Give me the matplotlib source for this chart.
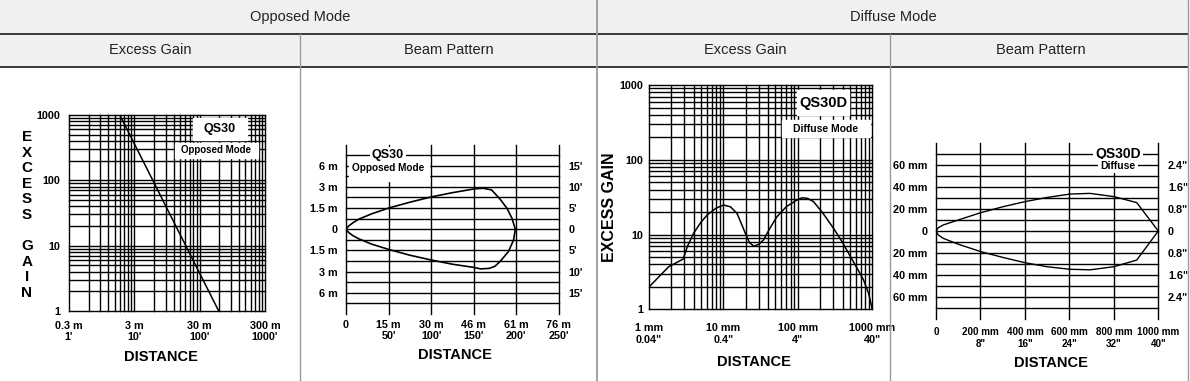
import numpy as np
import matplotlib.pyplot as plt
from matplotlib.patches import Rectangle
from matplotlib.lines import Line2D
from matplotlib.ticker import NullLocator

plt.rcParams['font.family'] = ['Liberation Sans Narrow', 'Liberation Sans', 'DejaVu Sans']
plt.rcParams['font.weight'] = 'bold'
plt.rcParams['font.size'] = 7.8

# ---- data ----
# opposed mode excess gain (m, gain)
op_dist = [1.8, 58.7]
op_gain = [1000, 1]

# opposed beam pattern (x in ft, y in grid units)
op_up_x = [0, 3, 8, 15, 30, 50, 75, 100, 125, 150, 161, 171, 181, 189, 195, 199]
op_up_y = [0, 0.3, 0.6, 0.95, 1.45, 2.0, 2.55, 3.05, 3.45, 3.8, 3.87, 3.72, 2.85, 2.0, 1.05, 0]
op_lo_x = [0, 3, 8, 15, 30, 50, 75, 100, 125, 150, 158, 168, 175, 181, 191, 197, 199]
op_lo_y = [0, -0.3, -0.6, -0.9, -1.4, -1.9, -2.45, -2.9, -3.3, -3.6, -3.74, -3.7, -3.5, -3.05, -2.1, -1.0, 0]

# diffuse excess gain (mm, gain)
df_dist = [1.0, 1.85, 2.9, 3.3, 4.0, 5.0, 6.1, 8.0, 10.1, 12.5, 15.3, 17.5, 19.8, 22.5, 25.7,
           30, 34.8, 42, 52.5, 70, 97.5, 114, 135, 163, 220, 302, 400, 507, 640, 763, 890, 1000]
df_gain = [1.97, 3.7, 4.7, 6.9, 10.4, 14.5, 18.3, 22.5, 24.8, 23.5, 19.2, 14.0, 10.4, 7.8, 7.0,
           7.4, 8.5, 12.0, 17.3, 23.5, 29.0, 31.0, 30.5, 27.5, 19.0, 12.1, 7.8, 5.1, 3.4, 2.47, 1.65, 1.0]

# diffuse beam pattern (mm)
db_x = [0, 10, 33, 100, 202, 300, 400, 500, 603, 693, 802, 903, 1000]
db_up = [0, 3, 5.5, 10, 16.7, 22, 26.7, 30.5, 33.6, 34.2, 31.2, 25.8, 0]
db_lo = [0, -3.5, -6.7, -12, -18.8, -24, -28.8, -32.5, -34.8, -35.3, -32.4, -26.4, 0]

W, H = 1190, 381
fig = plt.figure(figsize=(W / 100, H / 100), dpi=100)


def px_axes(l, t, r, b):
    return fig.add_axes([l / W, 1 - b / H, (r - l) / W, (b - t) / H])


def fx(x):
    return x / W


def fy(y):
    return 1 - y / H


HEAD = ['Liberation Sans', 'DejaVu Sans']

# ---- header ----
fig.patches.append(Rectangle((0, fy(67)), fx(1188), 67 / H, transform=fig.transFigure,
                             color='#f0f0f0', zorder=0))
for yy in (34, 67):
    fig.add_artist(Line2D([0, fx(1188)], [fy(yy)] * 2, color='#1a1a1a', lw=1.2))
fig.add_artist(Line2D([fx(597)] * 2, [0, 1], color='#9a9a9a', lw=1.3))
for xx in (300, 890):
    fig.add_artist(Line2D([fx(xx)] * 2, [0, fy(34)], color='#9a9a9a', lw=1.0))
fig.add_artist(Line2D([fx(1188)] * 2, [0, 1], color='#9a9a9a', lw=1.0))

heads = [(300, 17, 'Opposed Mode'), (893, 17, 'Diffuse Mode'),
         (150, 50, 'Excess Gain'), (449, 50, 'Beam Pattern'),
         (745, 50, 'Excess Gain'), (1041, 50, 'Beam Pattern')]
for x, y, s in heads:
    fig.text(fx(x), fy(y), s, ha='center', va='center', fontsize=10.5,
             family=HEAD, weight='normal', color='#222222')


def clean(ax):
    for sp in ax.spines.values():
        sp.set_visible(False)
    ax.tick_params(length=0)


GRID = dict(color='black', lw=1.0, zorder=1, clip_on=False)

# ---- panel 1: opposed excess gain ----
ax1 = px_axes(69, 115, 265, 311)
ax1.set_xscale('log')
ax1.set_yscale('log')
ax1.set_xlim(0.3, 300)
ax1.set_ylim(1, 1000)
for n in range(3):
    for k in range(1, 10):
        ax1.axvline(0.3 * k * 10 ** n, **GRID)
        ax1.axhline(k * 10 ** n, **GRID)
ax1.axvline(300, **GRID)
ax1.axhline(1000, **GRID)
ax1.plot(op_dist, op_gain, color='black', lw=1.1, zorder=3)
ax1.set_xticks([0.3, 3, 30, 300], ["0.3 m\n1'", "3 m\n10'", "30 m\n100'", "300 m\n1000'"])
ax1.set_yticks([1, 10, 100, 1000], ['1', '10', '100', '1000'])
ax1.xaxis.set_minor_locator(NullLocator())
ax1.yaxis.set_minor_locator(NullLocator())
clean(ax1)
ax1.tick_params(axis='x', pad=7)
ax1.tick_params(axis='y', pad=6)
ax1.add_patch(Rectangle((0.633, 0.872), 0.275, 0.113, transform=ax1.transAxes,
                        color='white', zorder=2))
ax1.add_patch(Rectangle((0.541, 0.781), 0.423, 0.076, transform=ax1.transAxes,
                        color='white', zorder=2))
ax1.text(0.77, 0.928, 'QS30', transform=ax1.transAxes, ha='center', va='center',
         fontsize=9, zorder=4)
ax1.text(0.752, 0.819, 'Opposed Mode', transform=ax1.transAxes, ha='center', va='center',
         fontsize=7, zorder=4)
for i, ch in enumerate('EXCESS GAIN'):
    fig.text(fx(27), fy(137 + i * 15.6), ch, ha='center', va='center', fontsize=11)
fig.text(fx(161), fy(357), 'DISTANCE', ha='center', va='center', fontsize=10.5)

# ---- panel 2: opposed beam pattern ----
ax2 = px_axes(346, 144.5, 558.7, 314)
ax2.set_xlim(0, 250)
ax2.set_ylim(-8, 8)
for v in range(0, 251, 50):
    if v == 50:
        ax2.axvline(v, ymin=0, ymax=(4.6 + 8) / 16, **GRID)
        ax2.axvline(v, ymin=(7.6 + 8) / 16, ymax=1, **GRID)
    else:
        ax2.axvline(v, **GRID)
for h in range(-7, 8):
    ax2.axhline(h, **GRID)
ax2.add_patch(Rectangle((3, 4.55), 95, 2.3, color='white', zorder=2))
ax2.plot(op_up_x, op_up_y, color='black', lw=1.2, zorder=3)
ax2.plot(op_lo_x, op_lo_y, color='black', lw=1.2, zorder=3)
ax2.text(49, 7.0, 'QS30', ha='center', va='center', fontsize=9, zorder=4,
         bbox=dict(facecolor='white', edgecolor='none', pad=1.5))
ax2.text(50, 5.75, 'Opposed Mode', ha='center', va='center', fontsize=7.2, zorder=4)
ax2.set_xticks(range(0, 251, 50), ['0', "15 m\n50'", "30 m\n100'", "46 m\n150'",
                                   "61 m\n200'", "76 m\n250'"])
ax2.set_yticks([6, 4, 2, 0, -2, -4, -6], ['6 m', '3 m', '1.5 m', '0', '1.5 m', '3 m', '6 m'])
clean(ax2)
ax2.tick_params(axis='x', pad=4)
ax2.tick_params(axis='y', pad=6)
ax2r = ax2.twinx()
ax2r.set_ylim(-8, 8)
ax2r.set_yticks([6, 4, 2, 0, -2, -4, -6], ["15'", "10'", "5'", '0', "5'", "10'", "15'"])
clean(ax2r)
ax2r.tick_params(axis='y', pad=7)
fig.text(fx(455), fy(355), 'DISTANCE', ha='center', va='center', fontsize=10.5)

# ---- panel 3: diffuse excess gain ----
ax3 = px_axes(648.7, 85, 872.3, 309.3)
ax3.set_xscale('log')
ax3.set_yscale('log')
ax3.set_xlim(1, 1000)
ax3.set_ylim(1, 1000)
for n in range(3):
    for k in range(1, 10):
        ax3.axvline(k * 10 ** n, **GRID)
        ax3.axhline(k * 10 ** n, **GRID)
ax3.axvline(1000, **GRID)
ax3.axhline(1000, **GRID)
ax3.plot(df_dist, df_gain, color='black', lw=1.1, zorder=3)
ax3.set_xticks([1, 10, 100, 1000], ['1 mm\n0.04"', '10 mm\n0.4"', '100 mm\n4"', '1000 mm\n40"'])
ax3.set_yticks([1, 10, 100, 1000], ['1', '10', '100', '1000'])
ax3.xaxis.set_minor_locator(NullLocator())
ax3.yaxis.set_minor_locator(NullLocator())
clean(ax3)
ax3.tick_params(axis='x', pad=10)
ax3.tick_params(axis='y', pad=4)
ax3.add_patch(Rectangle((0.662, 0.866), 0.233, 0.112, transform=ax3.transAxes,
                        color='white', zorder=2))
ax3.add_patch(Rectangle((0.596, 0.768), 0.394, 0.076, transform=ax3.transAxes,
                        color='white', zorder=2))
ax3.text(0.78, 0.92, 'QS30D', transform=ax3.transAxes, ha='center', va='center',
         fontsize=10.5, zorder=4)
ax3.text(0.79, 0.806, 'Diffuse Mode', transform=ax3.transAxes, ha='center', va='center',
         fontsize=7.5, zorder=4)
fig.text(fx(610), fy(207), 'EXCESS GAIN', rotation=90, ha='center', va='center', fontsize=11.5)
fig.text(fx(754), fy(362), 'DISTANCE', ha='center', va='center', fontsize=10.5)

# ---- panel 4: diffuse beam pattern ----
ax4 = px_axes(936, 143, 1158.3, 319)
ax4.set_xlim(0, 1000)
ax4.set_ylim(-80, 80)
for v in range(0, 1001, 200):
    if v == 800:
        ax4.axvline(v, ymin=0, ymax=(53 + 80) / 160, **GRID)
    else:
        ax4.axvline(v, **GRID)
for h in range(-70, 71, 10):
    ax4.axhline(h, **GRID)
ax4.plot(db_x, db_up, color='black', lw=1.0, zorder=3)
ax4.plot(db_x, db_lo, color='black', lw=1.0, zorder=3)
ax4.text(819, 70, 'QS30D', ha='center', va='center', fontsize=10, zorder=4,
         bbox=dict(facecolor='white', edgecolor='none', pad=1.5))
ax4.text(819, 59, 'Diffuse', ha='center', va='center', fontsize=7.5, zorder=4,
         bbox=dict(facecolor='white', edgecolor='none', pad=1.5))
ax4.set_xticks(range(0, 1001, 200), ['0', '200 mm\n8"', '400 mm\n16"', '600 mm\n24"',
                                     '800 mm\n32"', '1000 mm\n40"'])
ax4.set_yticks([60, 40, 20, 0, -20, -40, -60],
               ['60 mm', '40 mm', '20 mm', '0', '20 mm', '40 mm', '60 mm'])
clean(ax4)
ax4.tick_params(axis='x', pad=6, labelsize=7.1)
ax4.tick_params(axis='y', pad=6)
ax4r = ax4.twinx()
ax4r.set_ylim(-80, 80)
ax4r.set_yticks([60, 40, 20, 0, -20, -40, -60],
                ['2.4"', '1.6"', '0.8"', '0', '0.8"', '1.6"', '2.4"'])
clean(ax4r)
ax4r.tick_params(axis='y', pad=7)
fig.text(fx(1051), fy(363), 'DISTANCE', ha='center', va='center', fontsize=10.5)

fig.savefig('out.png', dpi=100)
